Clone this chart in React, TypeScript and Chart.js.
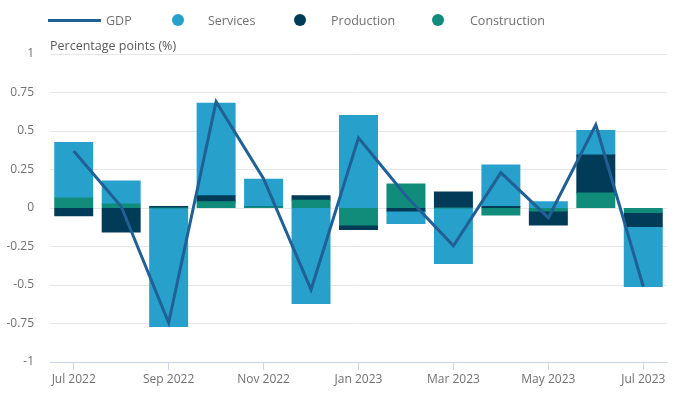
import React, { useEffect, useRef } from "react";
import { Chart, registerables } from "chart.js";

Chart.register(...registerables);

const months = ["Jul 2022", "Aug 2022", "Sep 2022", "Oct 2022", "Nov 2022", "Dec 2022", "Jan 2023", "Feb 2023", "Mar 2023", "Apr 2023", "May 2023", "Jun 2023", "Jul 2023"];
const services = [0.36, 0.15, -0.77, 0.6, 0.18, -0.62, 0.6, -0.08, -0.36, 0.27, 0.04, 0.16, -0.39];
const production = [-0.05, -0.156, 0.01, 0.04, 0, 0.03, -0.03, -0.02, 0.104, 0.01, -0.09, 0.247, -0.09];
const construction = [0.065, 0.026, 0, 0.04, 0.006, 0.05, -0.11, 0.156, 0, -0.045, -0.02, 0.097, -0.03];
const gdp = [0.37, 0.01, -0.745, 0.69, 0.19, -0.53, 0.456, 0.08, -0.245, 0.23, -0.063, 0.54, -0.51];
const yTicks = [1, 0.75, 0.5, 0.25, 0, -0.25, -0.5, -0.75, -1];

const C_GDP = "#206095";
const C_SERV = "#27a0cc";
const C_PROD = "#003c57";
const C_CONS = "#118c7b";
const FONT = "'Open Sans', sans-serif";

const titlePlugin = {
  id: "yTitle",
  afterDraw(chart: any) {
    const { ctx, chartArea } = chart;
    ctx.save();
    ctx.font = `12.5px ${FONT}`;
    ctx.fillStyle = "#595959";
    ctx.textAlign = "left";
    ctx.textBaseline = "middle";
    ctx.fillText("Percentage points (%)", chartArea.left, chartArea.top - 8);
    ctx.restore();
  },
};

export default function App() {
  const ref = useRef<HTMLCanvasElement>(null);
  useEffect(() => {
    document.body.style.margin = "0";
    const chart = new Chart(ref.current as HTMLCanvasElement, {
      type: "bar",
      data: {
        labels: months,
        datasets: [
          { type: "line", label: "GDP", data: gdp, borderColor: C_GDP, backgroundColor: C_GDP, borderWidth: 3, pointRadius: 0, order: 0, tension: 0 } as any,
          { label: "Construction", data: construction, backgroundColor: C_CONS, order: 1, stack: "s" },
          { label: "Production", data: production, backgroundColor: C_PROD, order: 1, stack: "s" },
          { label: "Services", data: services, backgroundColor: C_SERV, order: 1, stack: "s" },
        ],
      },
      options: {
        animation: false,
        responsive: false,
        layout: { padding: { top: 54, right: 16, left: 0, bottom: 0 } },
        plugins: { legend: { display: false }, tooltip: { enabled: false } },
        datasets: { bar: { barPercentage: 0.8, categoryPercentage: 1, inflateAmount: 0.5 } },
        scales: {
          x: {
            stacked: true,
            offset: true,
            grid: {
              offset: false,
              drawOnChartArea: false,
              drawTicks: true,
              tickLength: 8,
              color: (c: any) => (c.index % 2 === 0 ? "#ccd6eb" : "rgba(0,0,0,0)"),
            },
            border: { display: true, color: "#ccd6eb", width: 1 },
            ticks: {
              autoSkip: false,
              maxRotation: 0,
              padding: 2,
              color: "#707070",
              font: { family: FONT, size: 12 },
              callback: (v: any, i: number) => (i % 2 === 0 ? months[i] : ""),
            },
            afterFit: (s: any) => { s.height = 37; },
          },
          y: {
            stacked: true,
            min: -1,
            max: 1,
            afterBuildTicks: (s: any) => { s.ticks = yTicks.map((v) => ({ value: v })); },
            grid: { color: (c: any) => (c.tick && c.tick.value === -1 ? "rgba(0,0,0,0)" : "#e6e6e6"), drawTicks: false },
            border: { display: false },
            ticks: {
              padding: 16,
              color: "#707070",
              font: { family: FONT, size: 12 },
              callback: (v: any) => String(v),
            },
            afterFit: (s: any) => { s.width = 50; },
          },
        },
      },
      plugins: [titlePlugin],
    } as any);
    return () => chart.destroy();
  }, []);

  const legendText: React.CSSProperties = { position: "absolute", top: 13, fontFamily: FONT, fontSize: 12.5, color: "#707070", lineHeight: "16px", whiteSpace: "nowrap" };
  const dot = (x: number, color: string): React.CSSProperties => ({ position: "absolute", left: x - 6, top: 14, width: 12, height: 12, borderRadius: "50%", background: color });

  return (
    <div style={{ position: "relative", width: 683, height: 399 }}>
      <canvas ref={ref} width={683} height={399} style={{ display: "block" }} />
      <div style={{ position: "absolute", left: 48, top: 19, width: 53, height: 3, background: C_GDP }} />
      <div style={{ ...legendText, left: 106 }}>GDP</div>
      <div style={dot(178, C_SERV)} />
      <div style={{ ...legendText, left: 208 }}>Services</div>
      <div style={dot(300, C_PROD)} />
      <div style={{ ...legendText, left: 331 }}>Production</div>
      <div style={dot(438, C_CONS)} />
      <div style={{ ...legendText, left: 470 }}>Construction</div>
    </div>
  );
}
